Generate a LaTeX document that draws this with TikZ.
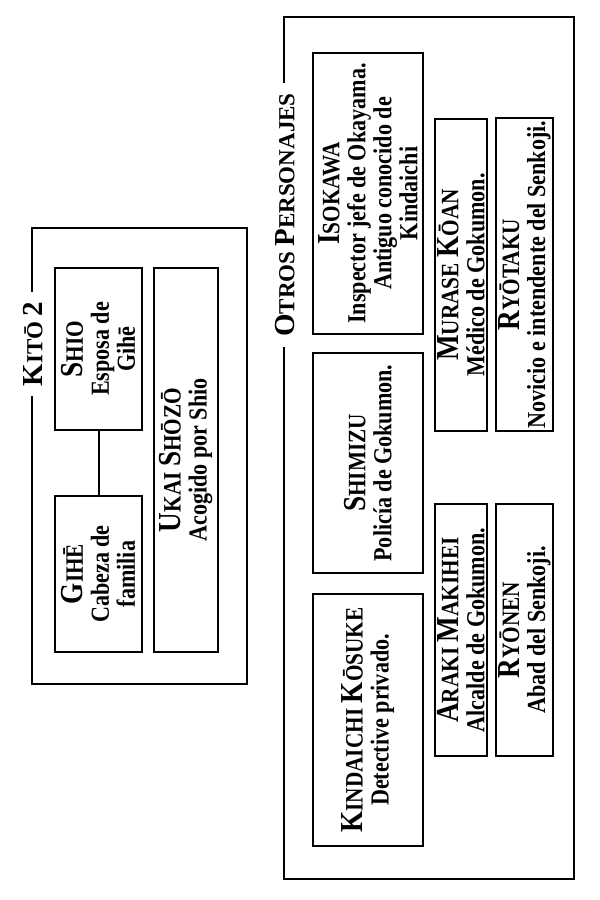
\documentclass[tikz,border=0pt]{standalone}
\usepackage{fontspec}
\setmainfont{Liberation Serif}[FakeStretch=0.85]
\newfontfamily\titlefont{Liberation Serif}
\usetikzlibrary{positioning}

% fake small capitals: big initial, smaller rest
\newcommand\nm[2]{{\fontsize{16}{16}\selectfont #1}{\fontsize{12.5}{13}\selectfont #2}}
\newcommand\ttl[2]{{\fontsize{14.5}{16}\selectfont #1}{\fontsize{11.5}{13}\selectfont #2}}

\begin{document}
\begin{tikzpicture}[
  x=0.5pt, y=-0.5pt,
  font=\bfseries\fontsize{13}{13}\selectfont,
  frame/.style={draw, line width=1pt, rotate=90, inner sep=0pt},
  card/.style={draw, line width=1pt, rotate=90, align=center, inner sep=0pt},
  heading/.style={fill=white, rotate=90, inner sep=5pt, font=\titlefont\bfseries},
  link/.style={line width=1pt}
]
\useasboundingbox (0,0) rectangle (600,900);

% family group
\node[frame, minimum width=228pt, minimum height=107.5pt] (kito) at (139.5,456) {};
\node[heading] (kitotitle) at (33,344) {\ttl{K}{IT\=O} {\fontsize{14.5}{16}\selectfont 2}};

\node[card, minimum width=81pt, minimum height=43.5pt] (shio) at (98.5,349)
  {\nm{S}{HIO}\\Esposa de\\Gih\=e};
\node[card, minimum width=78pt, minimum height=43.5pt] (gihe) at (98.5,574)
  {\nm{G}{IH\=E}\\Cabeza de\\familia};
\draw[link] (shio) -- (gihe);
\node[card, minimum width=192pt, minimum height=32pt] (ukai) at (186,460)
  {\nm{U}{KAI} \nm{S}{H\=OZ\=O}\\Acogido por Shio};

% other characters
\node[frame, minimum width=431pt, minimum height=145pt] (otros) at (429,448) {};
\node[heading] (otrostitle) at (285,215) {\ttl{O}{TROS} \ttl{P}{ERSONAJES}};

\node[card, minimum width=140.5pt, minimum height=55pt] (isokawa) at (368,193.5)
  {\nm{I}{SOKAWA}\\Inspector jefe de Okayama.\\Antiguo conocido de\\Kindaichi};
\node[card, minimum width=110pt, minimum height=55pt] (shimizu) at (368,463)
  {\nm{S}{HIMIZU}\\Polic\'ia de Gokumon.};
\node[card, minimum width=126pt, minimum height=55pt] (kindaichi) at (368,720)
  {\nm{K}{INDAICHI} \nm{K}{\=OSUKE}\\Detective privado.};

\node[card, minimum width=156pt, minimum height=26pt] (murase) at (461,275)
  {\nm{M}{URASE} \nm{K}{\=OAN}\\M\'edico de Gokumon.};
\node[card, minimum width=156.5pt, minimum height=28.5pt] (ryotaku) at (524.5,274.5)
  {\nm{R}{Y\=OTAKU}\\Novicio e intendente del Senkoji.};
\node[card, minimum width=126pt, minimum height=26pt] (araki) at (461,630)
  {\nm{A}{RAKI} \nm{M}{AKIHEI}\\Alcalde de Gokumon.};
\node[card, minimum width=126pt, minimum height=28.5pt] (ryonen) at (524.5,630)
  {\nm{R}{Y\=ONEN}\\Abad del Senkoji.};
\end{tikzpicture}
\end{document}
